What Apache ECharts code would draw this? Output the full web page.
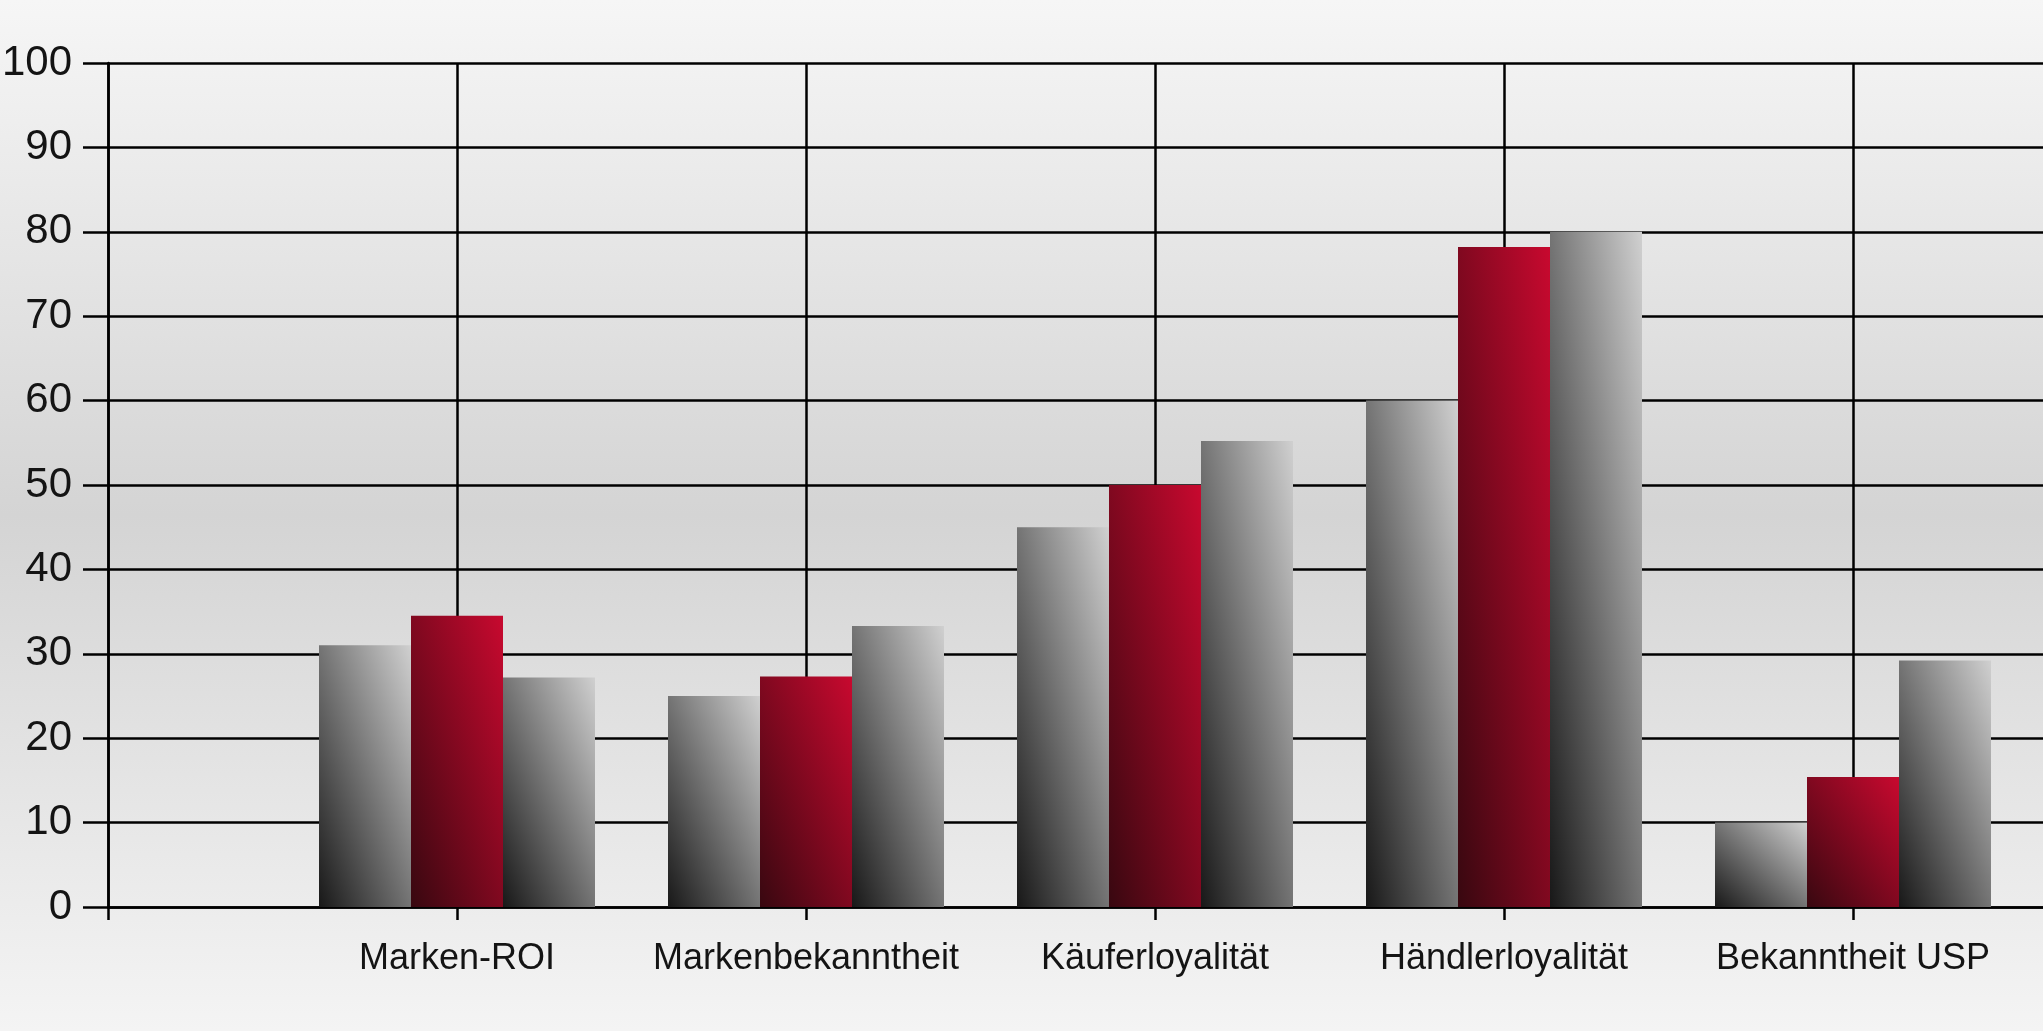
<!DOCTYPE html>
<html>
<head>
<meta charset="utf-8">
<script src="https://cdn.jsdelivr.net/npm/echarts@6/dist/echarts.min.js"></script>
<style>
html,body{margin:0;padding:0;background:#eee;overflow:hidden;width:2043px;height:1031px;}
#chart{width:2202px;height:1031px;}
</style>
</head>
<body>
<div id="chart"></div>
<script>
// Categories (an empty slot before the first and after the last, as in the original layout)
const categories = ['Marken-ROI', 'Markenbekanntheit', 'Käuferloyalität', 'Händlerloyalität', 'Bekanntheit USP'];
const seriesGrayA = [31, 25, 45, 60, 10];
const seriesRed   = [34.5, 27.3, 50, 78.2, 15.4];
const seriesGrayB = [27.2, 33.3, 55.2, 80, 29.2];
const yTicks = [0, 10, 20, 30, 40, 50, 60, 70, 80, 90, 100];

const axisCats = [''].concat(categories, ['']);
const pad = arr => ['-'].concat(arr, ['-']);

const chart = echarts.init(document.getElementById('chart'), null, {renderer: 'canvas'});

const BAR_W = 92;
const LINE_W = 2.5;
const grayStops = ['#181818', '#d0d0d0'];
const redStops = ['#380810', '#c8092f'];

function baseOption() {
  return {
    animation: false,
    backgroundColor: new echarts.graphic.LinearGradient(0, 0, 0, 1, [
      {offset: 0, color: '#f6f6f6'},
      {offset: 0.5, color: '#d4d4d4'},
      {offset: 1, color: '#f4f4f4'}
    ]),
    grid: {left: 108, top: 63, bottom: 124, right: 0, containLabel: false, outerBoundsMode: 'none'},
    xAxis: {
      type: 'category',
      data: axisCats,
      boundaryGap: false,
      axisLine: {show: true, lineStyle: {color: '#000', width: LINE_W}},
      axisTick: {show: true, interval: 0, length: 13, lineStyle: {color: '#000', width: LINE_W}},
      axisLabel: {interval: 0, margin: 34, color: '#141414', fontSize: 36, fontFamily: 'Liberation Sans, Arial, sans-serif'},
      splitLine: {show: true, interval: 0, lineStyle: {color: '#000', width: LINE_W}}
    },
    yAxis: {
      type: 'value',
      min: yTicks[0],
      max: yTicks[yTicks.length - 1],
      interval: yTicks[1] - yTicks[0],
      axisLine: {show: true, lineStyle: {color: '#000', width: LINE_W}},
      axisTick: {show: true, length: 25, lineStyle: {color: '#000', width: LINE_W}},
      axisLabel: {margin: 36, color: '#141414', fontSize: 42, fontFamily: 'Liberation Sans, Arial, sans-serif'},
      splitLine: {show: true, lineStyle: {color: '#000', width: LINE_W}}
    },
    series: [
      {type: 'bar', name: 'A', data: pad(seriesGrayA), barWidth: BAR_W, barGap: '0%', itemStyle: {color: '#888'}},
      {type: 'bar', name: 'B', data: pad(seriesRed), barWidth: BAR_W, barGap: '0%', itemStyle: {color: '#a01020'}},
      {type: 'bar', name: 'C', data: pad(seriesGrayB), barWidth: BAR_W, barGap: '0%', itemStyle: {color: '#888'}}
    ]
  };
}

chart.setOption(baseOption());

// Diagonal gradient whose iso-lines run parallel to the bar's top-left/bottom-right diagonal
function diagGrad(w, h, stops) {
  const r = h / w;
  const a = (r * r) / (1 + r * r);
  const b = 1 / (1 + r * r);
  return new echarts.graphic.LinearGradient(0.5 - a, 0.5 + b, 0.5 + a, 0.5 - b, [
    {offset: 0, color: stops[0]},
    {offset: 1, color: stops[1]}
  ]);
}

const y0 = chart.convertToPixel({yAxisIndex: 0}, 0);
function styled(arr, stops) {
  return pad(arr.map(v => {
    const h = Math.max(1, y0 - chart.convertToPixel({yAxisIndex: 0}, v));
    return {value: v, itemStyle: {color: diagGrad(BAR_W, h, stops)}};
  }));
}

chart.setOption({
  series: [
    {data: styled(seriesGrayA, grayStops)},
    {data: styled(seriesRed, redStops)},
    {data: styled(seriesGrayB, grayStops)}
  ]
});
</script>
</body>
</html>
